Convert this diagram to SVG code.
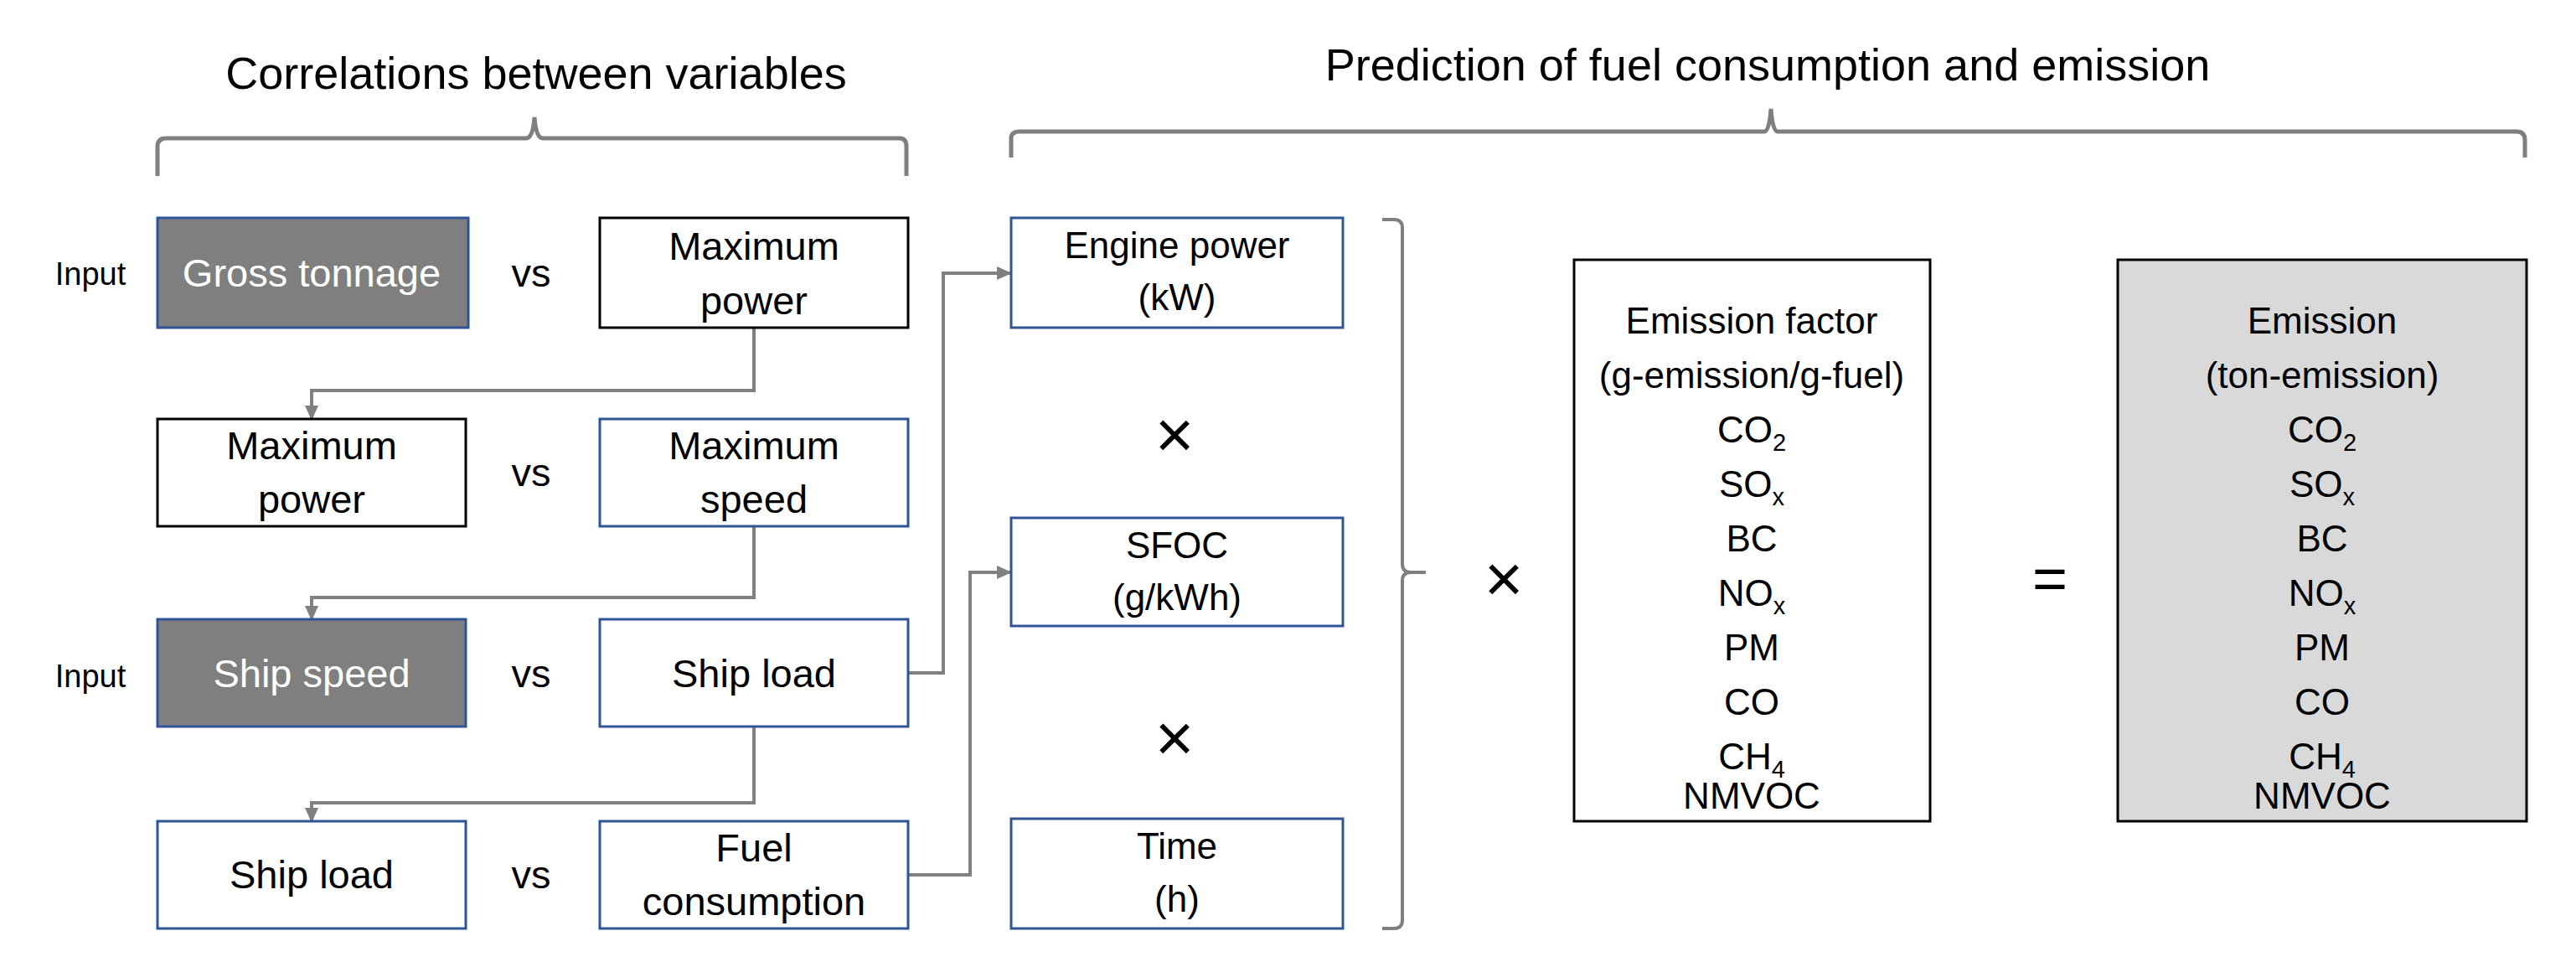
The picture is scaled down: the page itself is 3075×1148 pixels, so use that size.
<svg xmlns="http://www.w3.org/2000/svg" width="3075" height="1148" viewBox="0 0 3075 1148">
<style>
text{font-family:"Liberation Sans",Arial,sans-serif;fill:#000;text-anchor:middle}
.t{font-size:47px}
.h{font-size:54px}
.s{font-size:44px}
.in{font-size:38px}
.b{fill:#fff;stroke:#2f5597;stroke-width:3}
.k{fill:#fff;stroke:#000;stroke-width:3}
.g{fill:#7f7f7f;stroke:#2f5597;stroke-width:3}
.c{fill:none;stroke:#808080;stroke-width:4}
.br{fill:none;stroke:#7f7f7f;stroke-width:5}
.x{font-size:80px}
.sub{font-size:29px}
</style>
<defs>
<marker id="m" markerWidth="20" markerHeight="20" refX="16" refY="10" orient="auto" markerUnits="userSpaceOnUse"><path d="M0,2L18,10L0,18Z" fill="#808080"/></marker></defs>
<g id="titles">
<text class="h" x="640" y="106">Correlations between variables</text>
<path class="br" d="M188,210 V175 Q188,165 198,165 H628 Q636,165 638,140 Q640,165 648,165 H1074 Q1082,165 1082,175 V210"/>
<text class="h" x="2110" y="96">Prediction of fuel consumption and emission</text>
<path class="br" d="M1207,188 V165 Q1207,157 1217,157 H2106 Q2112,157 2114,130 Q2116,157 2122,157 H3004 Q3014,157 3014,167 V188"/>
</g>
<g id="connectors">
<path class="c" marker-end="url(#m)" d="M900,392 V466 H372 V500"/>
<path class="c" marker-end="url(#m)" d="M900,628 V713 H372 V739"/>
<path class="c" marker-end="url(#m)" d="M900,867 V958 H372 V980"/>
<path class="c" marker-end="url(#m)" d="M1084,803 H1126 V326 H1206"/>
<path class="c" marker-end="url(#m)" d="M1084,1044 H1158 V683 H1206"/>
</g>
<g id="n-gross"><text class="in" x="108" y="340">Input</text><rect class="g" x="188" y="260" width="371" height="131"/><text class="t" x="372" y="342" style="fill:#fff">Gross tonnage</text></g>
<g id="vs1"><text class="t" x="634" y="342">vs</text></g>
<g id="n-maxpower1"><rect class="k" x="716" y="260" width="368" height="131"/><text class="t" x="900" y="310">Maximum</text><text class="t" x="900" y="375">power</text></g>
<g id="n-maxpower2"><rect class="k" x="188" y="500" width="368" height="128"/><text class="t" x="372" y="548">Maximum</text><text class="t" x="372" y="612">power</text></g>
<g id="vs2"><text class="t" x="634" y="580">vs</text></g>
<g id="n-maxspeed"><rect class="b" x="716" y="500" width="368" height="128"/><text class="t" x="900" y="548">Maximum</text><text class="t" x="900" y="612">speed</text></g>
<g id="n-shipspeed"><text class="in" x="108" y="820">Input</text><rect class="g" x="188" y="739" width="368" height="128"/><text class="t" x="372" y="820" style="fill:#fff">Ship speed</text></g>
<g id="vs3"><text class="t" x="634" y="820">vs</text></g>
<g id="n-shipload1"><rect class="b" x="716" y="739" width="368" height="128"/><text class="t" x="900" y="820">Ship load</text></g>
<g id="n-shipload2"><rect class="b" x="188" y="980" width="368" height="128"/><text class="t" x="372" y="1060">Ship load</text></g>
<g id="vs4"><text class="t" x="634" y="1060">vs</text></g>
<g id="n-fuel"><rect class="b" x="716" y="980" width="368" height="128"/><text class="t" x="900" y="1028">Fuel</text><text class="t" x="900" y="1092">consumption</text></g>
<g id="n-engine"><rect class="b" x="1207" y="260" width="396" height="131"/><text class="s" x="1405" y="308">Engine power</text><text class="s" x="1405" y="370">(kW)</text></g>
<g id="n-sfoc"><rect class="b" x="1207" y="618" width="396" height="129"/><text class="s" x="1405" y="666">SFOC</text><text class="s" x="1405" y="728">(g/kWh)</text></g>
<g id="n-time"><rect class="b" x="1207" y="977" width="396" height="131"/><text class="s" x="1405" y="1025">Time</text><text class="s" x="1405" y="1088">(h)</text></g>
<g id="ops">
<text class="x" x="1402" y="546">×</text><text class="x" x="1402" y="908">×</text>
<path class="br" style="stroke-width:4" d="M1650,262 H1664 Q1674,262 1674,272 V673 Q1674,683 1684,683 H1702 M1684,683 Q1674,683 1674,693 V1098 Q1674,1108 1664,1108 H1650"/>
<text class="x" x="1795" y="718">×</text>
<text class="h" x="2447" y="715" style="font-size:72px">=</text>
</g>
<g id="n-factor"><rect class="k" x="1879" y="310" width="425" height="670"/>
<g class="s"><text x="2091" y="398">Emission factor</text><text x="2091" y="463">(g-emission/g-fuel)</text>
<text x="2091" y="528">CO<tspan class="sub" dy="10">2</tspan></text>
<text x="2091" y="593">SO<tspan class="sub" dy="10">x</tspan></text>
<text x="2091" y="658">BC</text>
<text x="2091" y="723">NO<tspan class="sub" dy="10">x</tspan></text>
<text x="2091" y="788">PM</text>
<text x="2091" y="853">CO</text>
<text x="2091" y="918">CH<tspan class="sub" dy="10">4</tspan></text>
<text x="2091" y="965">NMVOC</text></g></g>
<g id="n-emission"><rect x="2528" y="310" width="488" height="670" fill="#d9d9d9" stroke="#000" stroke-width="3"/>
<g class="s"><text x="2772" y="398">Emission</text><text x="2772" y="463">(ton-emission)</text>
<text x="2772" y="528">CO<tspan class="sub" dy="10">2</tspan></text>
<text x="2772" y="593">SO<tspan class="sub" dy="10">x</tspan></text>
<text x="2772" y="658">BC</text>
<text x="2772" y="723">NO<tspan class="sub" dy="10">x</tspan></text>
<text x="2772" y="788">PM</text>
<text x="2772" y="853">CO</text>
<text x="2772" y="918">CH<tspan class="sub" dy="10">4</tspan></text>
<text x="2772" y="965">NMVOC</text></g></g>
</svg>
